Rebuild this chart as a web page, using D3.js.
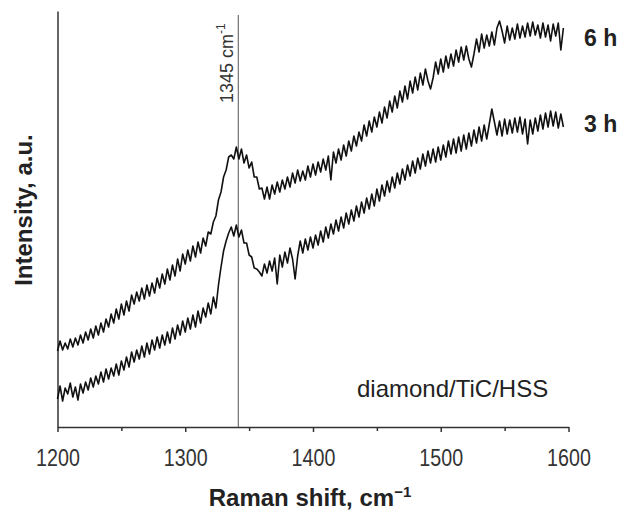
<!DOCTYPE html>
<html>
<head>
<meta charset="utf-8">
<script src="https://cdn.jsdelivr.net/npm/d3@7"></script>
<style>
    body { margin: 0; background: #fff; }
    svg { display: block; font-family: "Liberation Sans", Arial, sans-serif; }
</style>
</head>
<body>
<div id="raman-chart"></div>
<script>
// Raman spectra, sampled every 2 cm-1 from 1200 to 1596
const shiftStart = 1200;
const shiftStep = 2;
const intensity6h = [
    76, 86, 77, 84, 78, 88, 80, 89, 82, 92,
    84, 95, 87, 98, 89, 101, 92, 104, 95, 108,
    100, 113, 104, 118, 108, 123, 112, 126, 116, 132,
    123, 135, 126, 139, 128, 142, 131, 144, 134, 149,
    139, 153, 143, 158, 147, 162, 151, 168, 156, 173,
    163, 177, 166, 181, 170, 185, 174, 189, 181, 195,
    193, 205, 211, 227, 235, 250, 257, 270, 272, 268,
    280, 268, 278, 264, 272, 259, 265, 250, 250, 238,
    239, 228, 240, 228, 242, 233, 245, 235, 247, 238,
    250, 240, 254, 244, 257, 246, 256, 247, 261, 250,
    263, 252, 265, 255, 268, 257, 271, 247, 275, 264,
    278, 267, 282, 271, 286, 276, 291, 281, 295, 286,
    302, 291, 306, 295, 310, 300, 315, 304, 320, 309,
    326, 315, 331, 319, 336, 325, 341, 328, 346, 334,
    350, 337, 354, 342, 358, 346, 338, 349, 365, 353,
    368, 355, 371, 359, 373, 361, 377, 365, 380, 367,
    381, 368, 360, 373, 388, 375, 393, 379, 392, 381,
    395, 382, 399, 406, 396, 384, 401, 387, 399, 388,
    403, 389, 401, 390, 404, 391, 405, 392, 402, 389,
    404, 390, 402, 386, 403, 391, 404, 377, 399
];
const intensity3h = [
    28, 41, 26, 39, 33, 44, 30, 40, 27, 43,
    34, 45, 37, 49, 40, 51, 43, 55, 45, 58,
    48, 59, 51, 63, 52, 66, 57, 70, 60, 75,
    65, 77, 68, 81, 70, 84, 73, 87, 77, 90,
    79, 92, 82, 95, 84, 99, 88, 102, 92, 106,
    95, 109, 98, 112, 100, 116, 104, 119, 110, 124,
    113, 130, 119, 142, 160, 176, 186, 194, 200, 191,
    202, 190, 197, 184, 184, 172, 170, 159, 158, 155,
    151, 163, 154, 166, 156, 169, 143, 172, 160, 175,
    164, 179, 168, 148, 171, 186, 174, 188, 177, 190,
    179, 192, 182, 196, 185, 200, 189, 203, 193, 207,
    196, 210, 199, 214, 203, 217, 206, 221, 210, 225,
    214, 229, 218, 233, 221, 238, 226, 242, 231, 246,
    235, 250, 239, 254, 243, 258, 247, 262, 251, 266,
    254, 269, 258, 273, 261, 276, 264, 278, 265, 280,
    267, 282, 270, 286, 273, 288, 274, 290, 276, 292,
    278, 294, 281, 297, 284, 300, 286, 302, 288, 303,
    318, 305, 292, 306, 291, 308, 293, 307, 294, 309,
    295, 310, 293, 308, 283, 307, 293, 309, 296, 312,
    298, 314, 300, 316, 301, 315, 299, 313, 300
];
const seriesLabels = ["6 h", "3 h"];
const majorTicks = [1200, 1300, 1400, 1500, 1600];
const minorTicks = [1250, 1350, 1450, 1550];
const peakShift = 1341.5;   // line sits a bit left of the labelled value in the original
const peakLabel = "1345 cm";
const sampleLabel = "diamond/TiC/HSS";

class RamanChart {

    constructor(width, height) {
        this.width = width;
        this.height = height;
        this.x = d3.scaleLinear().domain([1200, 1600]).range([57.5, 568.5]);
        this.y = d3.scaleLinear().domain([0, 416]).range([427, 11]);
    }

    /**
     * draws axes, marker line, spectra and labels
     */
    draw() {
        let svg = d3.select("#raman-chart").append("svg")
            .attr("width", this.width)
            .attr("height", this.height);

        this.drawAxes(svg);

        // marker line for the D band
        svg.append("line")
            .attr("x1", this.x(peakShift)).attr("x2", this.x(peakShift))
            .attr("y1", 15).attr("y2", this.y(0))
            .attr("stroke", "#555").attr("stroke-width", 1);

        let line = d3.line()
            .x((d, i) => this.x(shiftStart + i * shiftStep))
            .y(d => this.y(d));

        svg.selectAll("path.spectrum")
            .data([intensity6h, intensity3h])
            .enter().append("path")
            .classed("spectrum", true)
            .attr("d", line)
            .attr("fill", "none")
            .attr("stroke", "#111")
            .attr("stroke-width", 1.6)
            .attr("stroke-linejoin", "round");

        // series labels at the right end
        svg.selectAll("text.series")
            .data(seriesLabels)
            .enter().append("text")
            .classed("series", true)
            .attr("x", 584)
            .attr("y", (d, i) => i === 0 ? 46 : 132)
            .attr("font-size", 23)
            .attr("font-weight", "bold")
            .attr("fill", "#222")
            .text(d => d);

        svg.append("text")
            .attr("x", 357).attr("y", 397)
            .attr("font-size", 24)
            .attr("fill", "#222")
            .text(sampleLabel);

        let peakText = svg.append("text")
            .attr("transform", `translate(${this.x(peakShift) - 5},103) rotate(-90)`)
            .attr("font-size", 18)
            .attr("fill", "#333")
            .text(peakLabel);
        peakText.append("tspan")
            .attr("font-size", 12)
            .attr("dy", -8)
            .text("-1");
    }

    drawAxes(svg) {
        let x = this.x, y = this.y;

        let xAxis = svg.append("g")
            .attr("transform", `translate(0,${y(0)})`)
            .call(d3.axisBottom(x).tickValues(majorTicks).tickSize(5).tickSizeOuter(0).tickFormat(d3.format("d")));

        svg.append("g")
            .attr("transform", `translate(0,${y(0)})`)
            .call(d3.axisBottom(x).tickValues(minorTicks).tickSize(4).tickFormat(""))
            .select(".domain").remove();

        svg.append("g")
            .attr("transform", `translate(${x(1200)},0)`)
            .call(d3.axisLeft(y).tickValues([]).tickSizeOuter(0));

        svg.selectAll(".domain").attr("stroke", "#333").attr("stroke-width", 1.5);
        svg.selectAll(".tick line").attr("stroke", "#333").attr("stroke-width", 1.5);

        xAxis.selectAll("text")
            .attr("y", 39)
            .attr("dy", null)
            .attr("font-size", 24)
            .attr("font-family", "Liberation Sans, Arial, sans-serif")
            .attr("fill", "#333")
            .attr("transform", "scale(0.82,1)");

        // axis titles
        let xTitle = svg.append("text")
            .attr("x", 310).attr("y", 506)
            .attr("text-anchor", "middle")
            .attr("font-size", 24)
            .attr("font-weight", "bold")
            .attr("fill", "#222")
            .text("Raman shift, cm");
        xTitle.append("tspan")
            .attr("font-size", 15)
            .attr("dy", -9)
            .text("\u22121");

        svg.append("text")
            .attr("transform", "translate(32,210) rotate(-90)")
            .attr("text-anchor", "middle")
            .attr("font-size", 24)
            .attr("font-weight", "bold")
            .attr("fill", "#222")
            .text("Intensity, a.u.");
    }
}

let chart = new RamanChart(629, 514);
chart.draw();
</script>
</body>
</html>
